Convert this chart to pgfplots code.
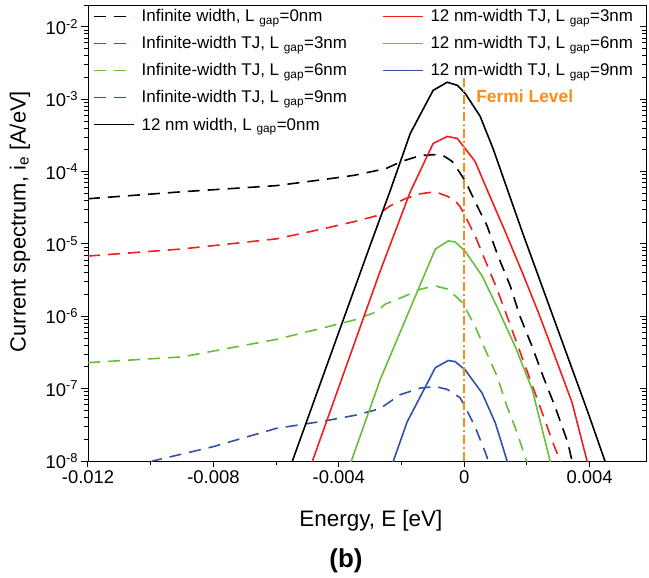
\documentclass[border=0pt]{standalone}
\usepackage{pgfplots}
\pgfplotsset{compat=1.18}
\usepackage{fontspec}
\setmainfont{Liberation Sans}
\definecolor{cK}{RGB}{0,0,0}
\definecolor{cR}{RGB}{240,30,30}
\definecolor{cG}{RGB}{102,190,60}
\definecolor{cB}{RGB}{50,80,170}
\definecolor{cO}{RGB}{250,140,30}
\pgfplotsset{
  minorlog/.style={minor ytick={2e-8,3e-8,4e-8,5e-8,6e-8,7e-8,8e-8,9e-8,
    2e-7,3e-7,4e-7,5e-7,6e-7,7e-7,8e-7,9e-7,
    2e-6,3e-6,4e-6,5e-6,6e-6,7e-6,8e-6,9e-6,
    2e-5,3e-5,4e-5,5e-5,6e-5,7e-5,8e-5,9e-5,
    2e-4,3e-4,4e-4,5e-4,6e-4,7e-4,8e-4,9e-4,
    2e-3,3e-3,4e-3,5e-3,6e-3,7e-3,8e-3,9e-3,2e-2}},
}
\begin{document}
\begin{tikzpicture}
\begin{axis}[
  scale only axis, width=558bp, height=456bp,
  ymode=log, log basis y=10,
  xmin=-0.012, xmax=0.0058, ymin=1e-8, ymax=2.01e-2,
  ytick={1e-8,1e-7,1e-6,1e-5,1e-4,1e-3,1e-2},
  minorlog,
  axis y line*=right, axis x line=none,
  yticklabels={}, tick align=inside,
  major tick length=6bp, minor tick length=4bp,
  tick style={black, line width=1bp},
  minor tick style={black, line width=1bp},
  axis line style={line width=0.9bp},
]
\end{axis}
\begin{axis}[
  scale only axis, width=558bp, height=456bp,
  ymode=log, log basis y=10,
  xmin=-0.012, xmax=0.0058, ymin=1e-8, ymax=2.01e-2,
  xtick={-0.012,-0.008,-0.004,0,0.004},
  xticklabels={-0.012,-0.008,-0.004,0,0.004},
  minor xtick={-0.010,-0.006,-0.002,0.002},
  scaled x ticks=false,
  ytick={1e-8,1e-7,1e-6,1e-5,1e-4,1e-3,1e-2},
  minorlog,
  yticklabel={10\textsuperscript{\pgfmathparse{int(round(\tick))}\pgfmathresult}},
  tick align=outside, xtick pos=bottom, ytick pos=left,
  major tick length=6.5bp, minor tick length=4bp,
  tick style={black, line width=1bp},
  minor tick style={black, line width=1bp},
  axis line style={line width=0.9bp},
  ticklabel style={font=\fontsize{18.5}{22}\selectfont},
  xlabel={Energy, E [eV]},
  ylabel={Current spectrum, i\textsubscript{e} [A/eV]},
  xlabel style={font=\fontsize{22.5}{26}\selectfont, at={(axis description cs:0.507,-0.1316)}, anchor=center},
  ylabel style={font=\fontsize{22}{26}\selectfont, at={(axis description cs:-0.122,0.525)}, anchor=center},
  legend columns=2,
  legend style={draw=none, fill=none, at={(0.007,0.997)}, anchor=north west,
    font=\fontsize{17}{20}\selectfont, row sep=9.3bp, inner sep=1bp,
    /tikz/every even column/.append style={column sep=33bp}},
  legend cell align=left,
  legend image code/.code={\draw[#1] (0bp,0bp) -- (40bp,0bp); \path (45bp,0bp);},
  ln/.style={line width=1.6bp},
  dsh/.style={line width=1.6bp, dash pattern=on 12bp off 8bp},
]
% Infinite width, Lgap=0 (black dashed)
\addplot[cK, dsh, forget plot] coordinates {
(-0.012,4.22e-5) (-0.009,5.27e-5) (-0.006,6.40e-5) (-0.0045,7.76e-5) (-0.0035,8.91e-5)
(-0.0025,1.10e-4) (-0.002,1.38e-4) (-0.0014,1.67e-4) (-0.0009,1.72e-4) (-0.00067,1.67e-4)
(-0.00038,1.38e-4) (0.00003,7.50e-5) (0.00035,3.83e-5) (0.00073,1.78e-5) (0.00108,6.81e-6)
(0.00147,2.63e-6) (0.00178,1.0e-6) (0.00217,3.80e-7) (0.00252,1.47e-7) (0.0029,5.62e-8)
(0.00331,1.78e-8) (0.00344,1.0e-8) (0.0036,6.3e-9)};
% Infinite-width TJ, Lgap=3 (red dashed)
\addplot[cR, dsh, forget plot] coordinates {
(-0.012,6.81e-6) (-0.009,8.53e-6) (-0.006,1.175e-5) (-0.0045,1.62e-5) (-0.0035,2.04e-5)
(-0.0028,2.45e-5) (-0.00236,3.37e-5) (-0.00188,4.22e-5) (-0.0014,4.94e-5) (-0.00092,5.27e-5)
(-0.00051,4.50e-5) (-0.00029,3.98e-5) (-0.00013,3.27e-5) (0.00003,2.45e-5) (0.00035,1.29e-5)
(0.00105,2.37e-6) (0.00172,3.83e-7) (0.00242,5.62e-8) (0.0028,1.95e-8) (0.00306,1.0e-8) (0.0032,6.8e-9)};
% Infinite-width TJ, Lgap=6 (green dashed)
\addplot[cG, dsh, forget plot] coordinates {
(-0.012,2.29e-7) (-0.009,2.75e-7) (-0.006,4.79e-7) (-0.0045,6.92e-7) (-0.0035,8.91e-7)
(-0.0028,1.15e-6) (-0.00252,1.47e-6) (-0.00188,1.91e-6) (-0.0014,2.37e-6) (-0.00092,2.63e-6)
(-0.00051,2.37e-6) (-0.00006,1.55e-6) (0.00035,7.24e-7) (0.00067,3.47e-7) (0.00105,1.48e-7)
(0.00137,5.62e-8) (0.00169,2.45e-8) (0.00194,1.15e-8) (0.0021,7.1e-9)};
% Infinite-width TJ, Lgap=9 (blue dashed)
\addplot[cB, dsh, forget plot] coordinates {
(-0.0100,9.5e-9) (-0.00994,1.0e-8) (-0.008,1.58e-8) (-0.006,2.82e-8) (-0.0045,3.55e-8)
(-0.0035,4.27e-8) (-0.0027,5.25e-8) (-0.00204,8.26e-8) (-0.0014,1.02e-7) (-0.00092,1.07e-7)
(-0.00054,9.77e-8) (-0.00013,7.50e-8) (0.00003,5.62e-8) (0.00035,2.95e-8) (0.00067,1.33e-8)
(0.00077,1.0e-8) (0.0009,7.1e-9)};
% 12 nm width, Lgap=0 (black solid)
\addplot[cK, ln, forget plot] coordinates {
(-0.0056,7.1e-9) (-0.00548,1.0e-8) (-0.004,6.03e-7) (-0.003,9.55e-6) (-0.00236,5.45e-5)
(-0.00172,3.37e-4) (-0.00135,6.76e-4) (-0.00099,1.33e-3) (-0.00054,1.72e-3) (-0.00022,1.56e-3)
(0.00003,1.21e-3) (0.00051,5.81e-4) (0.00092,2.09e-4) (0.00185,1.48e-5) (0.0029,8.32e-7)
(0.00395,4.68e-8) (0.00449,1.0e-8) (0.0046,7.4e-9)};
% 12 nm-width TJ, Lgap=3 (red solid)
\addplot[cR, ln, forget plot] coordinates {
(-0.0049,8.7e-9) (-0.00484,1.0e-8) (-0.004,1.05e-7) (-0.00268,4.22e-6) (-0.00172,5.25e-5)
(-0.00099,2.45e-4) (-0.00054,3.06e-4) (-0.00022,2.88e-4) (0.00003,2.09e-4) (0.00035,1.38e-4)
(0.00076,5.25e-5) (0.00131,1.48e-5) (0.00185,4.07e-6) (0.00236,1.15e-6) (0.0029,2.75e-7)
(0.00344,6.46e-8) (0.00392,1.0e-8) (0.0040,7.6e-9)};
% 12 nm-width TJ, Lgap=6 (green solid)
\addplot[cG, ln, forget plot] coordinates {
(-0.0037,7.6e-9) (-0.0036,1.0e-8) (-0.00268,1.33e-7) (-0.0018,1.07e-6) (-0.00092,8.51e-6)
(-0.00051,1.10e-5) (-0.00029,1.07e-5) (0.00003,7.94e-6) (0.00057,3.63e-6) (0.00108,1.26e-6)
(0.00163,3.80e-7) (0.00217,9.77e-8) (0.00274,1.0e-8) (0.0028,7.9e-9)};
% 12 nm-width TJ, Lgap=9 (blue solid)
\addplot[cB, ln, forget plot] coordinates {
(-0.0023,8.9e-9) (-0.00226,1.0e-8) (-0.00182,3.47e-8) (-0.00092,1.95e-7) (-0.00051,2.45e-7)
(-0.00029,2.37e-7) (0.00003,1.82e-7) (0.00057,8.71e-8) (0.00099,3.39e-8) (0.00137,1.0e-8) (0.0014,8.9e-9)};
% Fermi level
\addplot[cO, line width=1.5bp, dash pattern=on 9bp off 3bp on 2bp off 3bp, forget plot] coordinates {(0,1e-8) (0,2e-3)};
% legend
\addlegendimage{cK, dsh}\addlegendentry{Infinite width, L\ \textsubscript{gap}=0nm}
\addlegendimage{cR, ln}\addlegendentry{12 nm-width TJ, L\ \textsubscript{gap}=3nm}
\addlegendimage{cR, dsh}\addlegendentry{Infinite-width TJ, L\ \textsubscript{gap}=3nm}
\addlegendimage{cG, ln}\addlegendentry{12 nm-width TJ, L\ \textsubscript{gap}=6nm}
\addlegendimage{cG, dsh}\addlegendentry{Infinite-width TJ, L\ \textsubscript{gap}=6nm}
\addlegendimage{cB, ln}\addlegendentry{12 nm-width TJ, L\ \textsubscript{gap}=9nm}
\addlegendimage{cB, dsh}\addlegendentry{Infinite-width TJ, L\ \textsubscript{gap}=9nm}
\addlegendimage{empty legend}\addlegendentry{}
\addlegendimage{cK, ln}\addlegendentry{12 nm width, L\ \textsubscript{gap}=0nm}
\node[anchor=west, text=cO, font=\bfseries\fontsize{17.5}{21}\selectfont, inner sep=0pt] at (axis cs:0.00038,1.1e-3) {Fermi Level};
\end{axis}
\node[font=\bfseries\fontsize{26}{30}\selectfont] at (258bp,-100bp) {(b)};
\pgfresetboundingbox
\path[use as bounding box] (-88bp,-117bp) rectangle (561bp,461bp);
\end{tikzpicture}
\end{document}
